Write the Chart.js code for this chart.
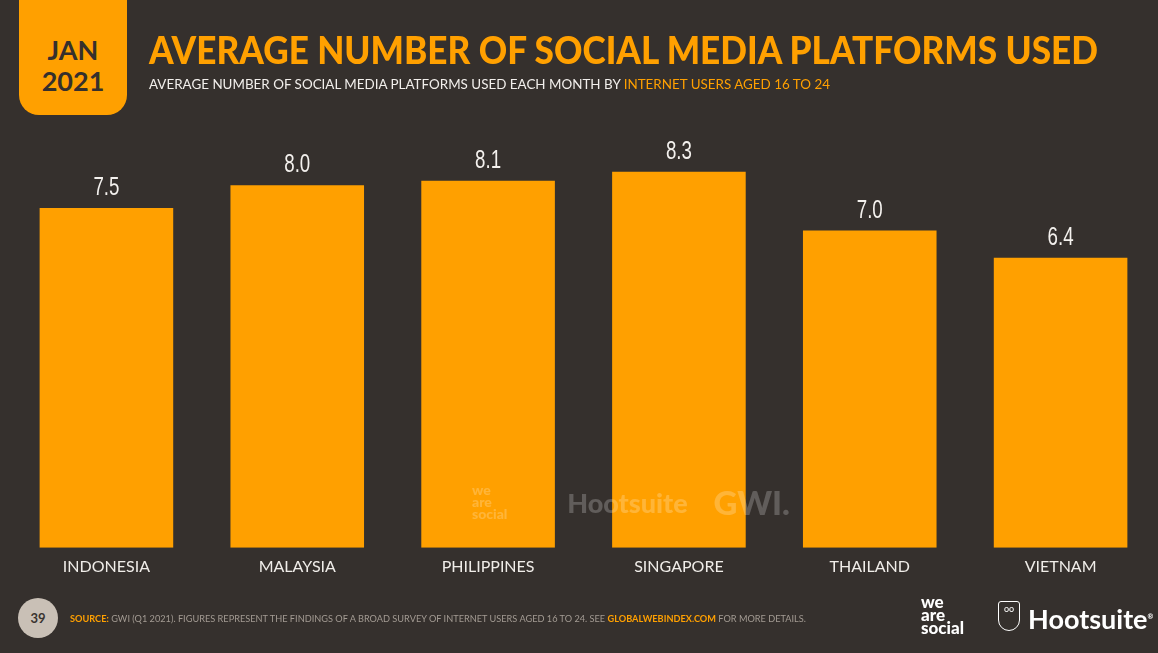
<!DOCTYPE html>
<html>
<head>
<meta charset="utf-8">
<script src="https://cdn.jsdelivr.net/npm/chart.js"></script>
<style>
  html, body { margin: 0; padding: 0; }
  body { width: 1158px; height: 653px; background: #35302d; position: relative; overflow: hidden; font-family: Lato, "Open Sans", sans-serif; }
  #wrap { position: absolute; left: 0; top: 0; width: 1158px; height: 653px; }
  .abs { position: absolute; white-space: nowrap; transform-origin: 0 50%; }
  #datebox { position: absolute; left: 19px; top: 0; width: 108px; height: 115px; background: #ffa000; border-radius: 0 0 20px 20px;
    color: #35302d; font-weight: 700; font-size: 27px; line-height: 31px; text-align: center; box-sizing: border-box; padding-top: 34px; }
  #title { left: 149px; top: 50px; color: #ffa000; font-weight: 900; font-size: 37px; line-height: 40px; margin-top: -20px; }
  #subtitle { left: 149px; top: 84px; color: #f2efec; font-size: 13px; line-height: 16px; margin-top: -8px; }
  .or { color: #ffa000; }
  #page { position: absolute; left: 18px; top: 598px; width: 40px; height: 40px; border-radius: 50%; background: #c9c0b6;
    color: #3a3430; font-weight: 700; font-size: 13px; line-height: 40px; text-align: center; }
  #source { left: 70px; top: 619px; color: #a39b93; font-size: 8.5px; line-height: 10px; margin-top: -5px; }
  #source b { color: #ffa000; }
  #was { position: absolute; left: 921px; top: 595px; color: #ffffff; font-weight: 900; font-size: 17px; line-height: 13px; }
  #hoot { position: absolute; left: 1028px; top: 600px; color: #ffffff; font-weight: 700; font-size: 27px; line-height: 32px; }
  #owl { position: absolute; left: 998px; top: 601px; width: 22px; height: 30px; border: 1.5px solid #fff; border-radius: 3px 3px 11px 11px; box-sizing: border-box; color:#fff; font-size: 9px; text-align:center; line-height: 14px; }
  #wm { position: absolute; left: 472px; top: 482px; color: rgba(255,255,255,0.22); font-weight: 900; white-space: nowrap; }
</style>
</head>
<body>
<div id="wrap"><canvas id="chart"></canvas></div>
<div id="datebox">JAN<br>2021</div>
<div id="title" class="abs fit" data-w="949">AVERAGE NUMBER OF SOCIAL MEDIA PLATFORMS USED</div>
<div id="subtitle" class="abs fit" data-w="681">AVERAGE NUMBER OF SOCIAL MEDIA PLATFORMS USED EACH MONTH BY <span class="or">INTERNET USERS AGED 16 TO 24</span></div>
<div id="page">39</div>
<div id="source" class="abs fit" data-w="736"><b>SOURCE:</b> GWI (Q1 2021). FIGURES REPRESENT THE FINDINGS OF A BROAD SURVEY OF INTERNET USERS AGED 16 TO 24. SEE <b>GLOBALWEBINDEX.COM</b> FOR MORE DETAILS.</div>
<div id="was">we<br>are<br>social</div>
<div id="owl">oo</div>
<div id="hoot">Hootsuite<sup style="font-size:7px">®</sup></div>
<div id="wm"><span style="display:inline-block;font-size:14px;line-height:12px;vertical-align:middle">we<br>are<br>social</span>
  <span style="font-size:27px;vertical-align:middle;margin-left:56px">Hootsuite</span>
  <span style="font-size:33px;vertical-align:middle;margin-left:22px">GWI.</span></div>
<script>
const countries = ['INDONESIA', 'MALAYSIA', 'PHILIPPINES', 'SINGAPORE', 'THAILAND', 'VIETNAM'];
const platforms = [7.5, 8.0, 8.1, 8.3, 7.0, 6.4];

// stretch header/footer lines to their measured widths
document.querySelectorAll('.fit').forEach(el => {
  const w = el.getBoundingClientRect().width;
  el.style.transform = 'scaleX(' + (+el.dataset.w / w) + ')';
});

// numbers over the bars, squeezed to look condensed
const valueLabels = {
  id: 'valueLabels',
  afterDatasetsDraw(chart) {
    const ctx = chart.ctx;
    const meta = chart.getDatasetMeta(0);
    meta.data.forEach((bar, i) => {
      ctx.save();
      ctx.translate(bar.x, bar.y - 7);
      ctx.scale(0.72, 1);
      ctx.fillStyle = '#f4f1ee';
      ctx.font = '26px "Liberation Sans", sans-serif';
      ctx.textAlign = 'center';
      ctx.textBaseline = 'bottom';
      ctx.fillText(platforms[i].toFixed(1), 0, 0);
      ctx.restore();
    });
  }
};

new Chart(document.getElementById('chart'), {
  type: 'bar',
  data: {
    labels: countries,
    datasets: [{
      data: platforms,
      backgroundColor: '#ffa000',
      barPercentage: 0.7,
      categoryPercentage: 1.0
    }]
  },
  options: {
    responsive: true,
    maintainAspectRatio: false,
    animation: false,
    layout: { padding: { left: 11, right: 2, top: 140, bottom: 68 } },
    plugins: { legend: { display: false }, tooltip: { enabled: false } },
    scales: {
      x: {
        grid: { display: false, drawTicks: false },
        border: { display: false },
        ticks: { color: '#f0ede9', font: { family: 'Lato', size: 16 }, padding: 9 }
      },
      y: { display: false, min: 0, max: 9 }
    }
  },
  plugins: [valueLabels]
});
</script>
</body>
</html>
